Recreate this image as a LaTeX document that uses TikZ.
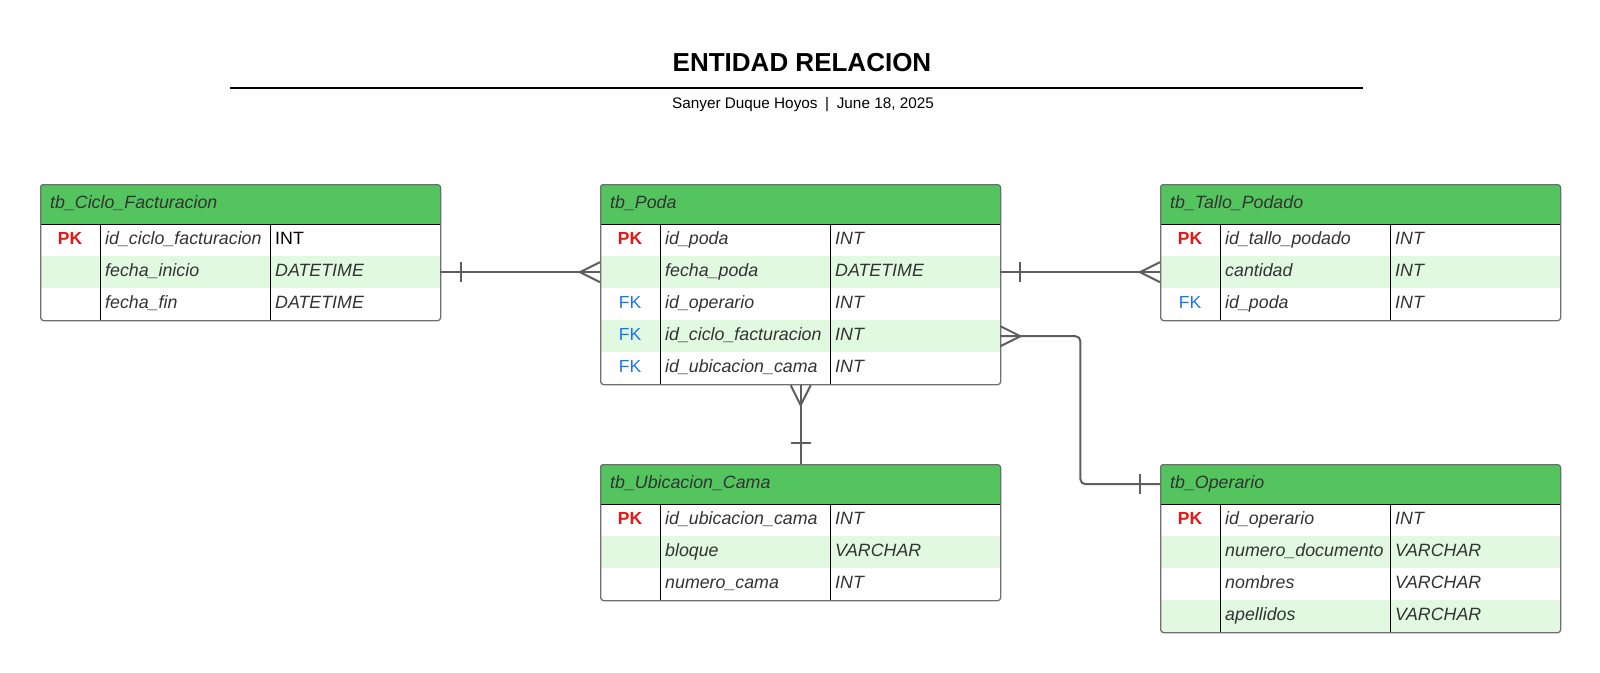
\documentclass[tikz,border=0pt]{standalone}
\usepackage{fontspec}
\setmainfont{Liberation Sans}
\usetikzlibrary{calc}
\definecolor{hdrgreen}{HTML}{54C45E}
\definecolor{rowalt}{HTML}{E1F8E1}
\definecolor{bordergray}{HTML}{707070}
\definecolor{conngray}{HTML}{5E5E5E}
\definecolor{celltext}{HTML}{333333}
\definecolor{pkred}{HTML}{E81515}
\definecolor{fkblue}{HTML}{1A73E8}
\newcommand{\pkmark}{{\color{pkred}\bfseries PK}}
\newcommand{\fkmark}{{\color{fkblue}FK}}
\tikzset{
  hdrbox/.style={rectangle, fill=hdrgreen, minimum width=400, minimum height=40, inner sep=0, draw=none},
  rowbox/.style={rectangle, minimum width=400, minimum height=32, inner sep=0, draw=none},
  celltxt/.style={inner sep=0, font=\fontsize{17.8}{20}\selectfont\itshape, text=celltext},
  keytxt/.style={inner sep=0, font=\fontsize{17.5}{20}\selectfont},
  divline/.style={black, line width=0.9},
  outerbox/.style={draw=bordergray, line width=1.3, rounded corners=3pt, inner sep=0, anchor=north west},
  conn/.style={draw=conngray, line width=2},
}
\newcommand{\ertable}[6]{%
  \begin{scope}
    \clip[rounded corners=3pt] (#2,#3) rectangle ++(400,40+32*#4);
    \fill[white] (#2,#3) rectangle ++(400,40+32*#4);
    \node[hdrbox, anchor=north west] (#1-h) at (#2,#3) {};
    \foreach \k/\n/\t [count=\i] in {#6} {
      \ifodd\i\relax \def\rc{white}\else\def\rc{rowalt}\fi
      \node[rowbox, fill=\rc, anchor=north west] (#1-r\i) at (#2,#3+40+32*\i-32) {};
    }
  \end{scope}
  \node[celltxt, anchor=base west] (#1-title) at (#2+10,#3+24) {#5};
  \foreach \k/\n/\t [count=\i] in {#6} {
    \node[keytxt, anchor=base] (#1-k\i) at (#2+30,#3+40+32*\i-16+4.5) {\k};
    \node[celltxt, anchor=base west] (#1-n\i) at (#2+65,#3+40+32*\i-16+4.5) {\n};
    \node[celltxt, anchor=base west] (#1-t\i) at (#2+235,#3+40+32*\i-16+4.5) {\t};
  }
  \draw[divline] (#2,#3+40) -- ++(400,0);
  \draw[divline] (#2+60,#3+40) -- ++(0,32*#4);
  \draw[divline] (#2+230,#3+40) -- ++(0,32*#4);
  \node[outerbox, minimum width=400, minimum height=40+32*#4] (#1) at (#2,#3) {};
}
\begin{document}
\begin{tikzpicture}[x=1pt, y=-1pt]
\useasboundingbox (0,0) rectangle (1600,672);
\fill[white] (0,0) rectangle (1600,672);

% title block
\node[inner sep=0, anchor=base, font=\fontsize{26}{30}\selectfont\bfseries] (title) at (802,71) {ENTIDAD RELACION};
\coordinate (rule-l) at (230,88);
\coordinate (rule-r) at (1363,88);
\draw[black, line width=2] (rule-l) -- (rule-r);
\node[inner sep=0, anchor=base, font=\fontsize{15.3}{18}\selectfont] (subtitle) at (803,108) {Sanyer Duque Hoyos\enspace|\enspace June 18, 2025};

% tables
\ertable{ciclo}{40}{184}{3}{tb\_Ciclo\_Facturacion}{%
  \pkmark/id\_ciclo\_facturacion/{\upshape\color{black}INT},
  /fecha\_inicio/DATETIME,
  /fecha\_fin/DATETIME}
\ertable{poda}{600}{184}{5}{tb\_Poda}{%
  \pkmark/id\_poda/INT,
  /fecha\_poda/DATETIME,
  \fkmark/id\_operario/INT,
  \fkmark/id\_ciclo\_facturacion/INT,
  \fkmark/id\_ubicacion\_cama/INT}
\ertable{tallo}{1160}{184}{3}{tb\_Tallo\_Podado}{%
  \pkmark/id\_tallo\_podado/INT,
  /cantidad/INT,
  \fkmark/id\_poda/INT}
\ertable{ubic}{600}{464}{3}{tb\_Ubicacion\_Cama}{%
  \pkmark/id\_ubicacion\_cama/INT,
  /bloque/VARCHAR,
  /numero\_cama/INT}
\ertable{oper}{1160}{464}{4}{tb\_Operario}{%
  \pkmark/id\_operario/INT,
  /numero\_documento/VARCHAR,
  /nombres/VARCHAR,
  /apellidos/VARCHAR}

% ciclo (one) -- poda (many)
\draw[conn] (ciclo-r2.east) -- (poda-r2.west);
\draw[conn] ($(ciclo-r2.east)+(21,-10)$) -- ($(ciclo-r2.east)+(21,10)$);
\draw[conn] ($(poda-r2.west)+(0,-10)$) -- ($(poda-r2.west)+(-20,0)$) -- ($(poda-r2.west)+(0,10)$);

% poda (one) -- tallo (many)
\draw[conn] (poda-r2.east) -- (tallo-r2.west);
\draw[conn] ($(poda-r2.east)+(20,-10)$) -- ($(poda-r2.east)+(20,10)$);
\draw[conn] ($(tallo-r2.west)+(0,-10)$) -- ($(tallo-r2.west)+(-20,0)$) -- ($(tallo-r2.west)+(0,10)$);

% poda (many) -- ubicacion (one)
\draw[conn] (poda.south) -- (ubic.north);
\draw[conn] ($(poda.south)+(-10,0)$) -- ($(poda.south)+(0,20)$) -- ($(poda.south)+(10,0)$);
\draw[conn] ($(ubic.north)+(-10,-21)$) -- ($(ubic.north)+(10,-21)$);

% poda (many) -- operario (one)
\draw[conn, rounded corners=5pt] (poda-r4.east) -- ++(80,0) |- (oper-h.west);
\draw[conn] ($(poda-r4.east)+(0,-10)$) -- ($(poda-r4.east)+(20,0)$) -- ($(poda-r4.east)+(0,10)$);
\draw[conn] ($(oper-h.west)+(-20,-10)$) -- ($(oper-h.west)+(-20,10)$);
\end{tikzpicture}
\end{document}
